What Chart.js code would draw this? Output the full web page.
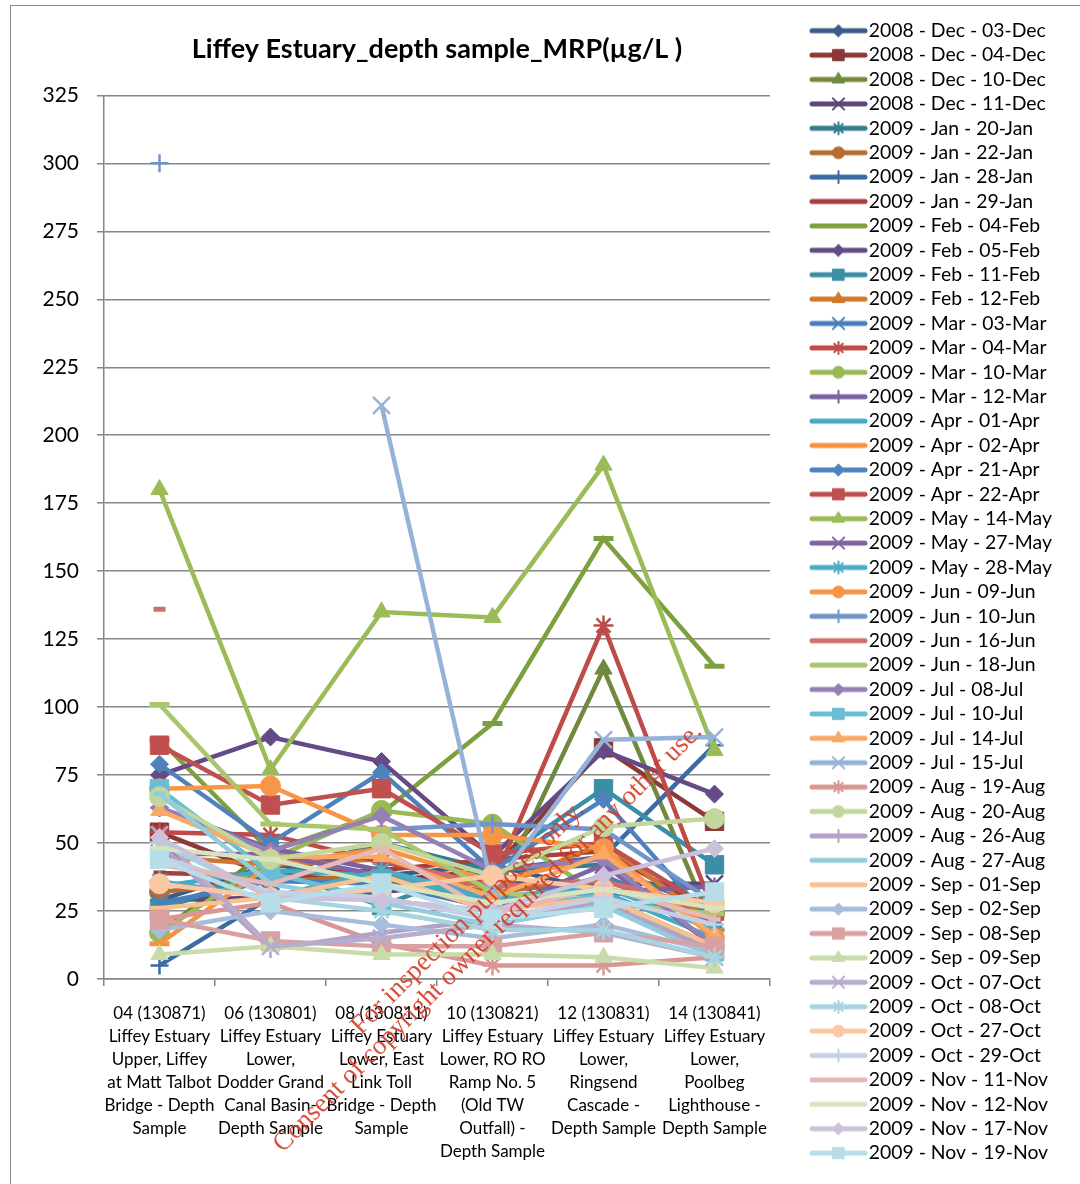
<!DOCTYPE html>
<html>
<head>
<meta charset="utf-8">
<script src="https://cdn.jsdelivr.net/npm/chart.js@4.4.1/dist/chart.umd.min.js"></script>
<style>
  html, body { margin: 0; padding: 0; background: #fff; overflow: hidden; }
  #wrap { position: relative; width: 1080px; height: 1184px; }
  #wrap canvas { position: absolute; left: 0; top: 0; }
  #frame { position: absolute; left: 10px; top: 5px; width: 1090px; height: 1200px;
           border: 1.5px solid #8a8a8a; pointer-events: none; }
</style>
</head>
<body>
<div id="wrap">
  <canvas id="mrpChart" width="1080" height="1184"></canvas>
  <div id="frame"></div>
</div>
<script>
// sampling stations (x axis)
const stations = [
  ['04 (130871)', 'Liffey Estuary', 'Upper, Liffey', 'at Matt Talbot', 'Bridge - Depth', 'Sample'],
  ['06 (130801)', 'Liffey Estuary', 'Lower,', 'Dodder Grand', 'Canal Basin-', 'Depth Sample'],
  ['08 (130811)', 'Liffey Estuary', 'Lower, East', 'Link Toll', 'Bridge - Depth', 'Sample'],
  ['10 (130821)', 'Liffey Estuary', 'Lower, RO RO', 'Ramp No. 5', '(Old TW', 'Outfall) -', 'Depth Sample'],
  ['12 (130831)', 'Liffey Estuary', 'Lower,', 'Ringsend', 'Cascade -', 'Depth Sample'],
  ['14 (130841)', 'Liffey Estuary', 'Lower,', 'Poolbeg', 'Lighthouse -', 'Depth Sample']
];

const sampleDates = [
  '2008 - Dec - 03-Dec', '2008 - Dec - 04-Dec', '2008 - Dec - 10-Dec', '2008 - Dec - 11-Dec',
  '2009 - Jan - 20-Jan', '2009 - Jan - 22-Jan', '2009 - Jan - 28-Jan', '2009 - Jan - 29-Jan',
  '2009 - Feb - 04-Feb', '2009 - Feb - 05-Feb', '2009 - Feb - 11-Feb', '2009 - Feb - 12-Feb',
  '2009 - Mar - 03-Mar', '2009 - Mar - 04-Mar', '2009 - Mar - 10-Mar', '2009 - Mar - 12-Mar',
  '2009 - Apr - 01-Apr', '2009 - Apr - 02-Apr', '2009 - Apr - 21-Apr', '2009 - Apr - 22-Apr',
  '2009 - May - 14-May', '2009 - May - 27-May', '2009 - May - 28-May', '2009 - Jun - 09-Jun',
  '2009 - Jun - 10-Jun', '2009 - Jun - 16-Jun', '2009 - Jun - 18-Jun', '2009 - Jul - 08-Jul',
  '2009 - Jul - 10-Jul', '2009 - Jul - 14-Jul', '2009 - Jul - 15-Jul', '2009 - Aug - 19-Aug',
  '2009 - Aug - 20-Aug', '2009 - Aug - 26-Aug', '2009 - Aug - 27-Aug', '2009 - Sep - 01-Sep',
  '2009 - Sep - 02-Sep', '2009 - Sep - 08-Sep', '2009 - Sep - 09-Sep', '2009 - Oct - 07-Oct',
  '2009 - Oct - 08-Oct', '2009 - Oct - 27-Oct', '2009 - Oct - 29-Oct', '2009 - Nov - 11-Nov',
  '2009 - Nov - 12-Nov', '2009 - Nov - 17-Nov', '2009 - Nov - 19-Nov'
];

// MRP (ug/L), one value per station
const dec03 = [29, 42, 38, 42, 32, 28];
const dec04 = [54, 38, 36, 40, 85, 58];
const dec10 = [17, 48, 36, 28, 114, 18];
const dec11 = [29, 30, 32, 36, 35, 35];
const jan20 = [26, 38, 50, 40, 42, 25];
const jan22 = [32, 36, 38, 32, 36, 24];
const jan28 = [5, 30, 33, 40, 45, 86];
const jan29 = [39, 38, 40, 44, 47, 24];
const feb04 = [88, 47, 61, 94, 162, 115];
const feb05 = [75, 89, 80, 45, 84, 68];
const feb11 = [26, 40, 27, 42, 70, 42];
const feb12 = [45, 42, 44, 33, 50, 20];
const mar03 = [28, 36, 35, 26, 38, 21];
const mar04 = [54, 53, 43, 35, 130, 24];
const mar10 = [17, 44, 62, 57, 30, 12];
const mar12 = [63, 48, 40, 30, 32, 34];
const apr01 = [34, 40, 38, 29, 32, 15];
const apr02 = [13, 42, 48, 36, 45, 18];
const apr21 = [79, 50, 76, 40, 66, 20];
const apr22 = [86, 64, 70, 46, 50, 25];
const may14 = [180, 77, 135, 133, 189, 84];
const may27 = [46, 46, 38, 25, 42, 12];
const may28 = [36, 30, 40, 30, 34, 18];
const jun09 = [70, 71, 53, 53, 48, 15];
const jun10 = [300, null, 55, 57, 55, 28];
const jun16 = [136, null, 44, 34, 36, 26];
const jun18 = [101, 57, 55, 32, 28, 24];
const jul08 = [63, 47, 60, 40, 44, 12];
const jul10 = [70, 39, 29, 25, 31, 10];
const jul14 = [62, 45, 45, 30, 46, 16];
const jul15 = [null, null, 211, 33, 88, 89];
const aug19 = [22, 28, 13, 5, 5, 8];
const aug20 = [67, 44, 50, 38, 56, 59];
const aug26 = [50, 11, 17, 22, 28, 10];
const aug27 = [68, 35, 28, 20, 27, 8];
const sep01 = [26, 30, 38, 25, 30, 12];
const sep02 = [18, 25, 20, 15, 20, 10];
const sep08 = [22, 14, 12, 12, 17, 12];
const sep09 = [9, 12, 9, 9, 8, 4];
const oct07 = [53, 12, 15, 20, 17, 8];
const oct08 = [50, 30, 25, 18, 18, 8];
const oct27 = [35, 30, 33, 38, 33, 28];
const oct29 = [45, 32, 30, 22, 30, 20];
const nov11 = [42, 35, 48, 24, 34, 22];
const nov12 = [48, 44, 35, 28, 33, 26];
const nov17 = [52, 30, 29, 25, 38, 48];
const nov19 = [44, 28, 35, 22, 26, 32];

const seriesValues = [
  dec03, dec04, dec10, dec11, jan20, jan22, jan28, jan29, feb04, feb05, feb11, feb12,
  mar03, mar04, mar10, mar12, apr01, apr02, apr21, apr22, may14, may27, may28, jun09,
  jun10, jun16, jun18, jul08, jul10, jul14, jul15, aug19, aug20, aug26, aug27, sep01,
  sep02, sep08, sep09, oct07, oct08, oct27, oct29, nov11, nov12, nov17, nov19
];

const seriesColors = [
  '#385d8a', '#8c3836', '#71893f', '#5c4776', '#357d91', '#b66d31',
  '#3d6ba3', '#a33f3c', '#7da03e', '#644a87', '#3a8fa6', '#d0782f',
  '#4a7ebb', '#be4b48', '#98b954', '#7d60a0', '#46aac5', '#f69240',
  '#4f81bd', '#c0504d', '#9bbb59', '#8064a2', '#4bacc6', '#f79646',
  '#7094cc', '#cd6f6d', '#a9c76e', '#9480b4', '#6bbdd4', '#f9a866',
  '#95b3d7', '#d99694', '#c3d69b', '#b2a2c7', '#93cddd', '#fac090',
  '#a8bddc', '#d8a0a0', '#c8dba8', '#b8accc', '#a6d4e0', '#fbc8a4',
  '#c5d0e6', '#e6b9b8', '#d7e4bd', '#ccc1da', '#b7dee8'
];

// excel-like marker cycle
const markerCycle = [
  { style: 'rectRot', r: 9, bw: 1, lr: 6 },
  { style: 'rect', r: 13, bw: 1, lr: 8 },
  { style: 'triangle', r: 10, bw: 1, lr: 7 },
  { style: 'crossRot', r: 12, bw: 2.5, lr: 8 },
  { style: 'star', r: 10, bw: 2.5, lr: 6 },
  { style: 'circle', r: 10, bw: 1, lr: 6 },
  { style: 'cross', r: 9, bw: 2.5, lr: 6 },
  { style: 'line', r: 6, bw: 5, lr: 6 },
  { style: 'line', r: 10, bw: 5, lr: 10 }
];

// legend swatch: line with the marker in the middle, drawn a bit right of the box centre
function legendIcon(color, m) {
  const cv = document.createElement('canvas');
  cv.width = 80; cv.height = 18;
  const g = cv.getContext('2d');
  g.strokeStyle = color; g.fillStyle = color; g.lineCap = 'round';
  g.lineWidth = 5;
  g.beginPath(); g.moveTo(18, 9); g.lineTo(71, 9); g.stroke();
  g.lineWidth = m.bw > 1 ? 2 : 1;
  Chart.helpers.drawPoint(g, { pointStyle: m.style, radius: m.lr, rotation: 0, borderWidth: g.lineWidth }, 44.5, 9);
  return cv;
}

const icons = seriesColors.map((c, i) => legendIcon(c, markerCycle[i % 9]));

const datasets = seriesValues.map((vals, i) => {
  const m = markerCycle[i % 9];
  return {
    label: sampleDates[i],
    data: vals,
    borderColor: seriesColors[i],
    backgroundColor: seriesColors[i],
    borderWidth: 4.5,
    pointStyle: m.style,
    pointRadius: m.r,
    pointBorderWidth: m.bw,
    pointBackgroundColor: seriesColors[i],
    pointBorderColor: seriesColors[i],
    order: seriesValues.length - i,
    tension: 0
  };
});

const legendWidth = {
  id: 'legendWidth',
  beforeLayout(chart) {
    const lg = chart.legend;
    if (lg && !lg._fixedWidth) {
      const fit = lg.fit;
      lg.fit = function () { fit.call(this); this.width = 276; };
      lg._fixedWidth = true;
    }
  }
};

const watermark = {
  id: 'watermark',
  afterDraw(chart) {
    const ctx = chart.ctx;
    ctx.save();
    ctx.translate(478, 928);
    ctx.rotate(-Math.PI / 4);
    ctx.font = '27px "Liberation Serif"';
    ctx.fillStyle = 'rgba(208, 60, 40, 0.9)';
    ctx.textAlign = 'center';
    ctx.textBaseline = 'middle';
    ctx.fillText('For inspection purposes only.', 0, -14);
    ctx.fillText('Consent of copyright owner required for any other use.', 0, 14);
    ctx.restore();
  }
};

const gridGrey = '#868686';

new Chart(document.getElementById('mrpChart'), {
  type: 'line',
  data: { labels: stations, datasets: datasets },
  options: {
    responsive: false,
    animation: false,
    devicePixelRatio: 1,
    layout: { padding: { top: 16, left: 0, right: 0, bottom: 5 } },
    plugins: {
      tooltip: { enabled: false },
      title: {
        display: true,
        fullSize: false,
        text: 'Liffey Estuary_depth sample_MRP(µg/L )',
        color: '#000',
        font: { family: 'Lato', size: 27, weight: 'bold' },
        padding: { top: 17, bottom: 30 }
      },
      legend: {
        position: 'right',
        align: 'start',
        labels: {
          color: '#000',
          font: { family: 'Lato', size: 19.4 },
          padding: 5,
          usePointStyle: true,
          pointStyleWidth: 50,
          sort: (a, b) => a.datasetIndex - b.datasetIndex,
          generateLabels(chart) {
            const items = Chart.defaults.plugins.legend.labels.generateLabels(chart);
            items.forEach(it => { it.pointStyle = icons[it.datasetIndex]; });
            return items;
          }
        }
      }
    },
    scales: {
      x: {
        offset: true,
        grid: { offset: true, drawOnChartArea: false, drawTicks: true, tickLength: 7, color: gridGrey, lineWidth: 1.5 },
        border: { color: gridGrey, width: 1.5 },
        ticks: { color: '#000', font: { family: 'Lato', size: 17, lineHeight: 1.353 }, padding: 16, maxRotation: 0, autoSkip: false },
        afterFit(s) { s.height = 200; }
      },
      y: {
        min: 0,
        max: 325,
        ticks: { stepSize: 25, color: '#000', font: { family: 'Lato', size: 21 }, padding: 18 },
        grid: { color: gridGrey, lineWidth: 1.5, tickLength: 7 },
        border: { color: gridGrey, width: 1.5 },
        afterFit(s) { s.width = 104; }
      },
      yGap: {
        position: 'right',
        display: true,
        grid: { display: false },
        border: { display: false },
        ticks: { display: false },
        afterFit(s) { s.width = 34; }
      }
    }
  },
  plugins: [legendWidth, watermark]
});
</script>
</body>
</html>
